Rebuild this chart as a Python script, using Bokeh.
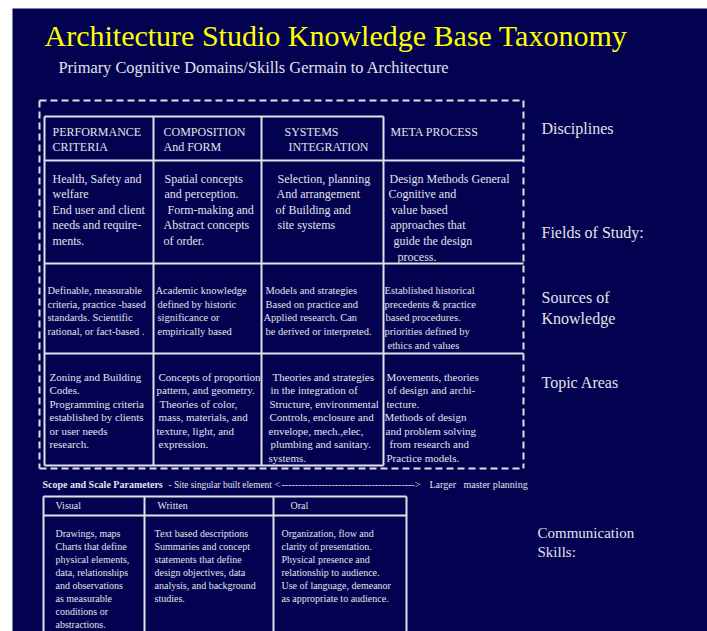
from bokeh.plotting import figure
from bokeh.models import Range1d, ColumnDataSource
from bokeh.core.properties import value
from bokeh.embed import file_html
from bokeh.resources import INLINE

# ---------------- content ----------------
title = "Architecture Studio Knowledge Base Taxonomy"
subtitle = "Primary Cognitive Domains/Skills  Germain to Architecture"

disciplines = [["PERFORMANCE", "CRITERIA"],
               ["COMPOSITION", "And FORM"],
               ["SYSTEMS", "INTEGRATION"],
               ["META PROCESS"]]

fields_of_study = [
    ["Health, Safety and", "welfare", "End user and client", "needs and require-", "ments."],
    ["Spatial concepts", "and perception.", "Form-making and", "Abstract concepts", "of order."],
    ["Selection, planning", "And arrangement", "of Building and", "site systems"],
    ["Design Methods General", "Cognitive and", "value based", "approaches that", "guide the design", "process."],
]

sources_of_knowledge = [
    ["Definable, measurable", "criteria, practice -based", "standards.  Scientific", "rational, or fact-based ."],
    ["Academic knowledge", "defined by historic", "significance or", "empirically based"],
    ["Models and strategies", "Based on practice and", "Applied research. Can", "be derived or interpreted."],
    ["Established historical", "precedents & practice", "based procedures.", "priorities defined by", "ethics and values"],
]

topic_areas = [
    ["Zoning and Building", "Codes.", "Programming criteria", "established by clients", "or user needs", "research."],
    ["Concepts of proportion", "pattern, and geometry.", "Theories of color,", "mass, materials, and", "texture, light, and", "expression."],
    ["Theories and strategies", "in the integration of", "Structure, environmental", "Controls, enclosure and", "envelope, mech.,elec,", "plumbing and sanitary.", "systems."],
    ["Movements, theories", "of design and archi-", "tecture.", "Methods of design", "and problem solving", "from research and", "Practice models."],
]

row_labels = [["Disciplines"], ["Fields of Study:"], ["Sources of", "Knowledge"], ["Topic Areas"]]

scope_bold = "Scope and Scale Parameters"
scope_left = "- Site singular built element"
scope_arrow_head_l = "<"
scope_arrow_body = "-" * 40 + ">"
scope_right = ["Larger", "master planning"]

comm_modes = ["Visual", "Written", "Oral"]
comm_skills = [
    ["Drawings, maps", "Charts that define", "physical elements,", "data, relationships", "and observations", "as measurable", "conditions or", "abstractions."],
    ["Text based descriptions", "Summaries and concept", "statements that define", "design objectives, data", "analysis, and background", "studies."],
    ["Organization, flow and", "clarity of presentation.", "Physical presence and", "relationship to audience.", "Use of language, demeanor", "as appropriate to audience."],
]
comm_label = ["Communication", "Skills:"]

# ---------------- layout / style ----------------
NAVY = "#020250"
TXT = "#e2e2ea"
LINE = "#e0e0e8"
FONT = value("Liberation Serif")

p = figure(width=707, height=631, x_range=Range1d(0, 707), y_range=Range1d(631, 0),
           output_backend="svg", toolbar_location=None, min_border=0,
           background_fill_color="white", border_fill_color="white")
p.xaxis.visible = False
p.yaxis.visible = False
p.xgrid.visible = False
p.ygrid.visible = False
p.outline_line_color = None

p.quad(left=[12], right=[720], top=[8], bottom=[640], fill_color=NAVY, line_color=None)

# table geometry
col_left = [44, 153, 261, 383]
tbl_right = 523
y_head_top, y_head_bot, y_r2_bot, y_r3_bot, y_r4_bot = 116, 160, 263, 353, 465

sx0, sx1, sy0, sy1 = [], [], [], []
def seg(a, b, c, d):
    sx0.append(a); sy0.append(b); sx1.append(c); sy1.append(d)

seg(col_left[0], y_head_top, col_left[3], y_head_top)
for yy in (y_head_bot, y_r2_bot, y_r3_bot):
    seg(col_left[0], yy, tbl_right, yy)
seg(col_left[0], y_r4_bot, col_left[3], y_r4_bot)
for xx in col_left:
    seg(xx, y_head_top, xx, y_r4_bot)

# bottom communication table
b_cols = [43, 144, 273, 406]
seg(b_cols[0], 496, b_cols[3], 496)
seg(b_cols[0], 515, b_cols[3], 515)
for xx in b_cols:
    seg(xx, 496, xx, 640)

p.segment(x0=sx0, y0=sy0, x1=sx1, y1=sy1, line_color=LINE, line_width=2)

# dashed outer box
dx0 = [39, 39, 523, 39]
dy0 = [100, 100, 100, 468]
dx1 = [523, 39, 523, 523]
dy1 = [100, 468, 468, 468]
p.segment(x0=dx0, y0=dy0, x1=dx1, y1=dy1, line_color=LINE, line_width=2, line_dash="7 4")

# ---------------- texts ----------------
tx, ty, tt, ts, tc, tst = [], [], [], [], [], []
def put(x, y, s, size, color=TXT, style="normal"):
    tx.append(x); ty.append(y); tt.append(s); ts.append(f"{size}px"); tc.append(color); tst.append(style)

put(44, 35, title, 30, "#ffff00")
put(58, 67, subtitle, 16.4)

head_x = [[52, 52], [163, 163], [284, 288], [390]]
for lines, xs in zip(disciplines, head_x):
    for i, s in enumerate(lines):
        put(xs[i], 131 + 15.6 * i, s, 12)

r2_x = [[52] * 5, [164, 164, 167, 163, 163], [277, 276, 275, 277], [389, 388, 391, 390, 393, 397]]
for lines, xs in zip(fields_of_study, r2_x):
    for i, s in enumerate(lines):
        put(xs[i], 178 + 15.6 * i, s, 12)

r3_x = [[47] * 4, [155, 157, 157, 157], [265, 265, 263, 265], [384, 384, 385, 384, 387]]
for lines, xs in zip(sources_of_knowledge, r3_x):
    for i, s in enumerate(lines):
        put(xs[i], 290 + 13.7 * i, s, 10.5)

r4_x = [[49] * 6, [158, 156, 159, 158, 156, 158], [272, 270, 269, 269, 268, 270, 268], [386, 387, 386, 384, 385, 389, 386]]
for lines, xs in zip(topic_areas, r4_x):
    for i, s in enumerate(lines):
        put(xs[i], 376 + 13.5 * i, s, 11)

label_y = [[128], [232], [297, 318], [382]]
for lines, ys in zip(row_labels, label_y):
    for s, yy in zip(lines, ys):
        put(541, yy, s, 16)

put(42, 484, scope_bold, 10, style="bold")
put(168, 484, scope_left, 9.3)
put(274, 484, scope_arrow_head_l, 10)
put(281, 484, scope_arrow_body, 10)
put(429, 484, scope_right[0], 10)
put(463, 484, scope_right[1], 10)

mode_x = [55, 157, 290]
for s, xx in zip(comm_modes, mode_x):
    put(xx, 505, s, 10)
skill_x = [55, 154, 281]
for lines, xx in zip(comm_skills, skill_x):
    for i, s in enumerate(lines):
        put(xx, 533 + 13.0 * i, s, 10)

put(537, 532, comm_label[0], 15)
put(537, 551, comm_label[1], 15)

src = ColumnDataSource(dict(x=tx, y=ty, text=tt, size=ts, color=tc, style=tst))
p.text(x="x", y="y", text="text", source=src, text_font=FONT, text_font_size="size",
       text_color="color", text_font_style="style", text_baseline="middle", text_align="left")

open("out.html", "w").write(file_html(p, INLINE))
